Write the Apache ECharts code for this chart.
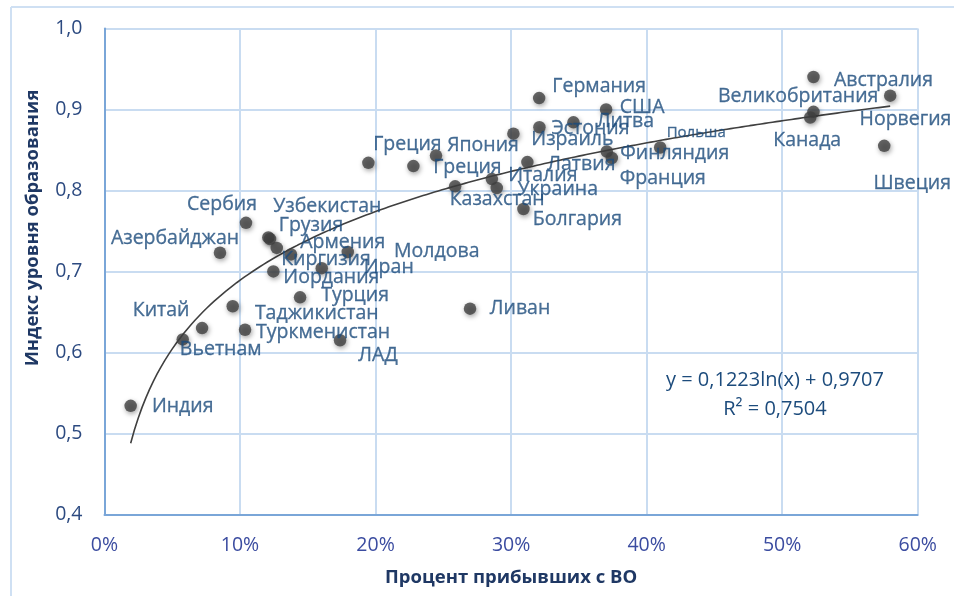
<!DOCTYPE html>
<html><head><meta charset="utf-8">
<script src="https://cdn.jsdelivr.net/npm/echarts@6/dist/echarts.min.js"></script>
<style>html,body{margin:0;padding:0;background:#fff;overflow:hidden}#c{width:954px;height:596px}</style>
</head><body><div id="c"></div>
<script>
// ---- data ----
const countries = ["Индия","Вьетнам","Китай","Таджикистан","Туркменистан","Азербайджан","Сербия","Узбекистан","Грузия","Армения","Киргизия","Иордания","Иран","Молдова","Турция","ЛАД","Ливан","Греция","Греция","Япония","Казахстан","Италия","Украина","Латвия","Болгария","Израиль","Эстония","Литва","Германия","США","Финляндия","Франция","Польша","Австралия","Великобритания","Норвегия","Канада","Швеция"];
const shareHigherEd = [0.0193,0.0577,0.0720,0.0946,0.1037,0.0852,0.1044,0.1209,0.1221,0.1271,0.1376,0.1246,0.1603,0.1795,0.1443,0.1738,0.2697,0.1947,0.2279,0.2446,0.2587,0.2858,0.2894,0.3120,0.3091,0.3017,0.3209,0.3460,0.3207,0.3701,0.3706,0.3743,0.4100,0.5231,0.5797,0.5231,0.5207,0.5753];
const eduIndex = [0.534,0.616,0.630,0.657,0.628,0.723,0.760,0.742,0.740,0.729,0.721,0.700,0.704,0.724,0.668,0.615,0.654,0.834,0.830,0.843,0.805,0.814,0.803,0.835,0.777,0.870,0.878,0.884,0.914,0.900,0.848,0.840,0.853,0.940,0.917,0.897,0.890,0.855];
const trendSlope = 0.1223;
const trendIntercept = 0.9707;
const trendText = ["y = 0,1223ln(x) + 0,9707", "R² = 0,7504"];
const xTitle = "Процент прибывших с ВО";
const yTitle = "Индекс уровня образования";

// ---- label layout (pixel offsets of each data label centre from its point) ----
const labelOffsets = [[52,1],[38,10],[-41,-18],[84,7],[78,3],[-45,-14],[-24,-18],[59,-31],[41,-14],[66,-5],[35,5],[58,6],[67,-1],[89,-1],[55,-2],[38,15],[50,0],[39,-18],[54,1],[47,-10],[42,13],[51,-4],[61,1],[54,2],[54,10],[59,6],[51,1],[52,-1],[60,-12],[36,-2],[68,2],[51,20],[36,-15],[70,3],[-92,1],[92,8],[-3,23],[28,38]];
const smallLabels = ["Польша"];

const FONT = "'Open Sans', 'Noto Sans', sans-serif";
const LABEL_COLOR = "#1c4b7c";

const points = countries.map((n, i) => ({
  name: n,
  value: [shareHigherEd[i], eduIndex[i]],
  label: { fontSize: smallLabels.includes(n) ? 15 : 19.5 }
}));

const xmin = Math.min(...shareHigherEd), xmax = Math.max(...shareHigherEd);
const trend = [];
for (let k = 0; k <= 200; k++) {
  const x = xmin + (xmax - xmin) * k / 200;
  trend.push([x, trendSlope * Math.log(x) + trendIntercept]);
}

const chart = echarts.init(document.getElementById('c'), null, {renderer: 'canvas'});
chart.setOption({
  animation: false,
  backgroundColor: '#ffffff',
  grid: {left: 104.5, top: 28.4, right: 36.3, bottom: 81.6, containLabel: false},
  xAxis: {
    type: 'value', min: 0, max: 0.6, interval: 0.1,
    name: xTitle, nameLocation: 'middle', nameGap: 54,
    nameTextStyle: {fontFamily: FONT, fontWeight: 'bold', fontSize: 18.5, color: '#1f3864'},
    axisLine: {show: true, lineStyle: {color: '#7aa6d8', width: 2}},
    axisTick: {show: false},
    axisLabel: {margin: 21, fontFamily: FONT, fontSize: 19.5, color: '#3b4ca0',
      formatter: v => Math.round(v * 100) + '%'},
    splitLine: {show: true, lineStyle: {color: '#c9dcf1', width: 2}}
  },
  yAxis: {
    type: 'value', min: 0.4, max: 1.0, interval: 0.1,
    axisLine: {show: true, lineStyle: {color: '#7aa6d8', width: 2}},
    axisTick: {show: false},
    axisLabel: {margin: 22, fontFamily: FONT, fontSize: 19.5, color: '#2c4a80',
      formatter: v => v.toFixed(1).replace('.', ',')},
    splitLine: {show: true, lineStyle: {color: '#c9dcf1', width: 2}}
  },
  series: [
    {
      type: 'line', data: trend, showSymbol: false, symbol: 'none', smooth: false,
      lineStyle: {color: '#404040', width: 1.6}, z: 3, silent: true
    },
    {
      type: 'scatter', data: points, symbol: 'circle', symbolSize: 12.5, z: 4,
      itemStyle: {color: '#404040', shadowBlur: 5, shadowColor: 'rgba(0,0,0,0.45)', shadowOffsetX: 1, shadowOffsetY: 2},
      label: {show: true, position: 'inside', formatter: p => p.name,
        fontFamily: FONT, color: LABEL_COLOR, align: 'center', verticalAlign: 'middle',
        textBorderColor: LABEL_COLOR, textBorderWidth: 0.3},
      labelLayout: p => ({
        dx: labelOffsets[p.dataIndex][0],
        dy: labelOffsets[p.dataIndex][1],
        hideOverlap: false
      })
    }
  ],
  graphic: [
    {type: 'line', shape: {x1: 11, y1: 7, x2: 960, y2: 7}, style: {stroke: '#cfe0f3', lineWidth: 2}, silent: true},
    {type: 'line', shape: {x1: 11, y1: 7, x2: 11, y2: 600}, style: {stroke: '#cfe0f3', lineWidth: 2}, silent: true},
    {type: 'text', x: 33, y: 228, rotation: Math.PI / 2,
      style: {text: yTitle, font: "bold 18.5px " + FONT, fill: '#1f3864', align: 'center', verticalAlign: 'middle'}, z: 10},
    {type: 'text', x: 775, y: 380, style: {text: trendText[0], font: "20px " + FONT, fill: LABEL_COLOR, align: 'center', verticalAlign: 'middle'}, z: 10},
    {type: 'text', x: 775, y: 409, style: {text: trendText[1], font: "20px " + FONT, fill: LABEL_COLOR, align: 'center', verticalAlign: 'middle'}, z: 10}
  ]
});
</script></body></html>
